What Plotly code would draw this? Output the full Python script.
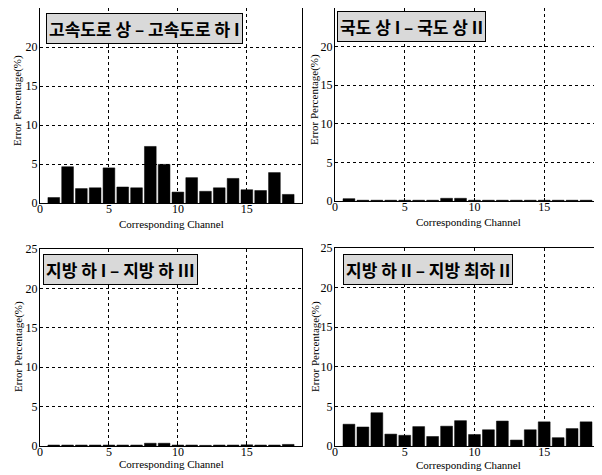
import plotly.graph_objects as go

channels = list(range(1, 19))
err_highway = [0.7, 4.65, 1.85, 1.95, 4.5, 2.05, 1.95, 7.25, 4.95, 1.4, 3.25, 1.5, 1.95, 3.15, 1.7, 1.6, 3.9, 1.1]
err_national = [0.3, 0.1, 0.1, 0.1, 0.1, 0.1, 0.1, 0.35, 0.35, 0.1, 0.1, 0.1, 0.1, 0.1, 0.1, 0.1, 0.1, 0.1]
err_local_a = [0.12, 0.12, 0.12, 0.12, 0.12, 0.12, 0.12, 0.35, 0.35, 0.12, 0.12, 0.08, 0.12, 0.12, 0.15, 0.12, 0.12, 0.2]
err_local_b = [2.75, 2.4, 4.2, 1.5, 1.35, 2.45, 1.2, 2.5, 3.2, 1.45, 2.05, 3.15, 0.75, 2.05, 3.05, 1.05, 2.2, 3.05]

titles = ["고속도로 상 – 고속도로 하 I", "국도 상 I – 국도 상 II", "지방 하 I – 지방 하 III", "지방 하 II – 지방 최하 II"]
x_title = "Corresponding Channel"
y_title = "Error Percentage(%)"
x_ticks = [0, 5, 10, 15]
y_ticks = [0, 5, 10, 15, 20, 25]

OFF = 8  # page body margin
W, H = 602 - OFF, 475 - OFF
panels = [
    # (data, x0, x1, ytop, ybot) in page pixels
    (err_highway, 40, 302, 8, 203),
    (err_national, 335, 600, 8, 201),
    (err_local_a, 40, 302, 249, 446),
    (err_local_b, 335, 600, 248, 446),
]
boxes = [(46, 13), (337, 11), (43, 254), (343, 254)]
xtitle_pos = [(171, 224), (468, 222), (171, 464), (468, 465)]
ytitle_pos = [(18, 101), (315, 100), (18, 347), (315, 347)]

def px(x):
    return (x - OFF) / W

def py(y):
    return 1 - (y - OFF) / H

fig = go.Figure()
serif = "Liberation Serif, Times New Roman, serif"
for i, (vals, x0, x1, yt, yb) in enumerate(panels):
    n = i + 1
    xa = "x" if n == 1 else f"x{n}"
    ya = "y" if n == 1 else f"y{n}"
    fig.add_trace(go.Bar(x=channels, y=vals, xaxis=xa, yaxis=ya, width=0.85,
                         marker=dict(color="black", line=dict(color="black", width=0.5)),
                         showlegend=False))
    axcommon = dict(showline=True, mirror=True, linecolor="black", linewidth=1,
                    showgrid=True, gridcolor="black", griddash="dot", gridwidth=1,
                    ticks="inside", ticklen=3, tickcolor="black", zeroline=False,
                    automargin=False,
                    tickfont=dict(family=serif, size=12, color="black"))
    xkey = "xaxis" if n == 1 else f"xaxis{n}"
    ykey = "yaxis" if n == 1 else f"yaxis{n}"
    fig.update_layout(**{
        xkey: dict(domain=[px(x0), min(px(x1), 1)], anchor=ya, range=[0, 19],
                   tickvals=x_ticks, ticklabelstandoff=-5, **axcommon),
        ykey: dict(domain=[py(yb), py(yt)], anchor=xa, range=[0, 25],
                   tickvals=y_ticks, ticklabelstandoff=-1, **axcommon),
    })
    bx, by = boxes[i]
    fig.add_annotation(text="<b>" + titles[i] + "</b>", xref="paper", yref="paper",
                       x=px(bx), y=py(by), xanchor="left", yanchor="top",
                       showarrow=False,
                       font=dict(family="Noto Sans CJK KR", size=17, color="black"),
                       bgcolor="#d9d9d9", bordercolor="black", borderwidth=1, borderpad=2)
    tx, ty = xtitle_pos[i]
    fig.add_annotation(text=x_title, xref="paper", yref="paper", x=px(tx), y=py(ty),
                       xanchor="center", yanchor="middle", showarrow=False,
                       font=dict(family=serif, size=11, color="black"))
    tx, ty = ytitle_pos[i]
    fig.add_annotation(text=y_title, xref="paper", yref="paper", x=px(tx), y=py(ty),
                       xanchor="center", yanchor="middle", showarrow=False, textangle=-90,
                       font=dict(family=serif, size=11, color="black"))

fig.update_layout(width=W, height=H, margin=dict(l=0, r=0, t=0, b=0),
                  paper_bgcolor="white", plot_bgcolor="white", bargap=0.15)
fig.write_html("out.html")
